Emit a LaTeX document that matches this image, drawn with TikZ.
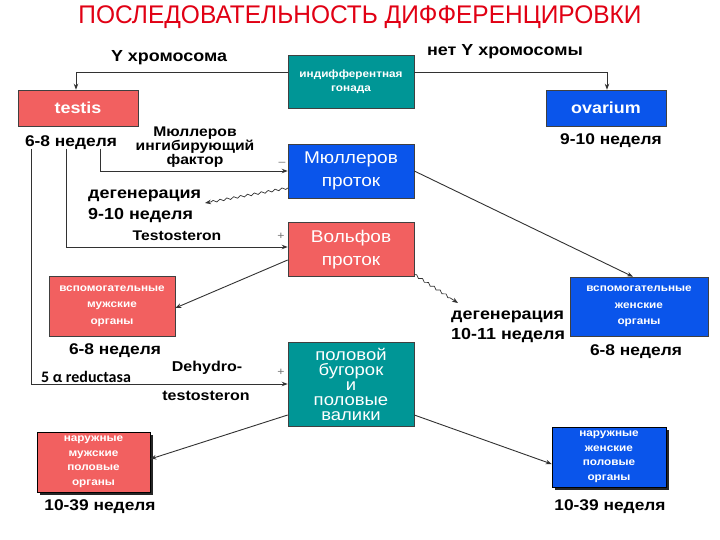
\documentclass[tikz,border=0pt]{standalone}
\usepackage{fontspec}
\setmainfont{Liberation Sans}[FakeStretch=1.12]
\newfontfamily\titlefont{Liberation Sans}[FakeStretch=0.96]
\newfontfamily\calfont{Carlito}
\usetikzlibrary{arrows.meta,decorations.pathmorphing,shadows}
\definecolor{tealc}{RGB}{0,150,150}
\definecolor{bluec}{RGB}{10,85,235}
\definecolor{redc}{RGB}{242,96,96}
\definecolor{linec}{RGB}{50,50,50}
\definecolor{titlec}{RGB}{225,0,20}
\tikzset{
  box/.style={draw=black!75, line width=0.6pt, inner sep=0pt, align=center, text=white},
  tealbox/.style={box, fill=tealc},
  bluebox/.style={box, fill=bluec},
  redbox/.style={box, fill=redc},
  shad/.style={drop shadow={shadow xshift=2.5pt, shadow yshift=-2.5pt, fill=black!85, opacity=1}},
  lbl/.style={font=\bfseries\fontsize{15.5}{20}\selectfont, inner sep=0pt, text=black},
  small/.style={font=\bfseries\fontsize{10.5}{14.5}\selectfont},
  mid/.style={font=\fontsize{17}{23}\selectfont},
  arr/.style={draw=linec, line width=0.9pt, -{Stealth[length=6pt,width=4.5pt]}},
  wavy/.style={draw=linec, line width=0.7pt, -{Stealth[length=6pt,width=4.5pt]},
    decorate, decoration={snake, amplitude=1.1pt, segment length=7pt, post length=6pt}},
  sign/.style={font=\fontsize{11}{11}\selectfont, text=black!55, inner sep=0pt}
}
\begin{document}
\begin{tikzpicture}[x=1pt,y=-1pt]
\useasboundingbox[fill=white] (0,0) rectangle (720,540);

% title
\node[font=\titlefont\fontsize{25.5}{25.5}\selectfont, text=titlec, inner sep=0pt] (title) at (360,17) {ПОСЛЕДОВАТЕЛЬНОСТЬ ДИФФЕРЕНЦИРОВКИ};

% boxes
\node[tealbox, minimum width=126pt, minimum height=53pt, small] (gonad) at (351,81.5) {индифферентная\\гонада};
\node[redbox, minimum width=120pt, minimum height=36pt, font=\bfseries\fontsize{16}{16}\selectfont] (testis) at (78,108) {testis};
\node[bluebox, minimum width=120pt, minimum height=36pt, font=\bfseries\fontsize{16}{16}\selectfont] (ovarium) at (606,108) {ovarium};
\node[bluebox, minimum width=126pt, minimum height=54pt, mid] (muller) at (351,171) {Мюллеров\\проток};
\node[redbox, minimum width=126pt, minimum height=54pt, mid] (wolff) at (351,249.5) {Вольфов\\проток};
\node[tealbox, minimum width=126pt, minimum height=84pt, font=\fontsize{16.5}{15}\selectfont] (bug) at (351,384) {половой\\бугорок\\и\\половые\\валики};
\node[redbox, minimum width=126pt, minimum height=60pt, font=\bfseries\fontsize{10.5}{16.5}\selectfont] (accM) at (112,306) {вспомогательные\\мужские\\органы};
\node[bluebox, minimum width=138pt, minimum height=59pt, font=\bfseries\fontsize{10.5}{16.5}\selectfont] (accF) at (639,306.5) {вспомогательные\\женские\\органы};
\node[redbox, draw=black, shad, minimum width=113pt, minimum height=60pt, small] (extM) at (93.5,462) {наружные\\мужские\\половые\\органы};
\node[bluebox, draw=black, shad, minimum width=114pt, minimum height=60pt, small] (extF) at (609,457) {наружные\\женские\\половые\\органы};

% labels
\node[lbl, font=\bfseries\fontsize{16}{20}\selectfont] (ychr) at (169,58) {Y хромосома};
\node[lbl, font=\bfseries\fontsize{16}{20}\selectfont] (noy) at (505,52) {нет Y хромосомы};
\node[lbl] (w68a) at (71,143) {6-8 неделя};
\node[lbl] (w910a) at (611,141) {9-10 неделя};
\node[lbl, align=center, font=\bfseries\fontsize{14}{14}\selectfont] (mif) at (195,147) {Мюллеров\\ингибирующий\\фактор};
\node[lbl, align=left, anchor=west, font=\bfseries\fontsize{16}{21}\selectfont] (deg1) at (88,206.5) {дегенерация\\9-10 неделя};
\node[lbl, font=\bfseries\fontsize{14}{14}\selectfont] (testo) at (177,236) {Testosteron};
\node[lbl] (w68b) at (115,351) {6-8 неделя};
\node[lbl, font=\calfont\bfseries\fontsize{16}{16}\selectfont] (red5) at (86,377) {5 α reductasa};
\node[lbl, font=\bfseries\fontsize{14.3}{14}\selectfont] (dh1) at (207,368) {Dehydro-};
\node[lbl, font=\bfseries\fontsize{14.3}{14}\selectfont] (dh2) at (206,396) {testosteron};
\node[lbl] (w1039a) at (100,507) {10-39 неделя};
\node[lbl, align=left, anchor=west, font=\bfseries\fontsize{16}{20}\selectfont] (deg2) at (451,327) {дегенерация\\10-11 неделя};
\node[lbl] (w68c) at (636,352) {6-8 неделя};
\node[lbl] (w1039b) at (610,507) {10-39 неделя};

% signs
\node[sign] (s-m) at (282,164) {--};
\node[sign] (s-w) at (281,236) {+};
\node[sign] (s-b) at (281,372) {+};

% coordinates
\coordinate (c1) at (31,149);
\coordinate (c2) at (66,149);
\coordinate (c3) at (100,149);
\coordinate (d1) at (205,203);
\coordinate (d2) at (458,303);

% connectors
\draw[arr] ([yshift=9.5pt]gonad.west) -| ([xshift=-2pt]testis.north);
\draw[arr] ([yshift=9.5pt]gonad.east) -| ([xshift=1pt]ovarium.north);
\draw[arr] (c3) |- (muller.west);
\draw[arr] (c2) |- ([yshift=2.5pt]wolff.west);
\draw[arr] (c1) |- (bug.west);
\draw[wavy] ([yshift=-17pt]muller.west) -- (d1);
\draw[arr] ([yshift=-10.5pt]wolff.west) -- ([yshift=-2pt]accM.east);
\draw[arr] (muller.east) -- ([xshift=-6pt]accF.north);
\draw[wavy] ([yshift=-25pt]wolff.east) -- (d2);
\draw[arr] ([yshift=-31pt]bug.west) -- ([yshift=3pt]extM.east);
\draw[arr] ([yshift=-31pt]bug.east) -- ([yshift=-7pt]extF.west);
\end{tikzpicture}
\end{document}
